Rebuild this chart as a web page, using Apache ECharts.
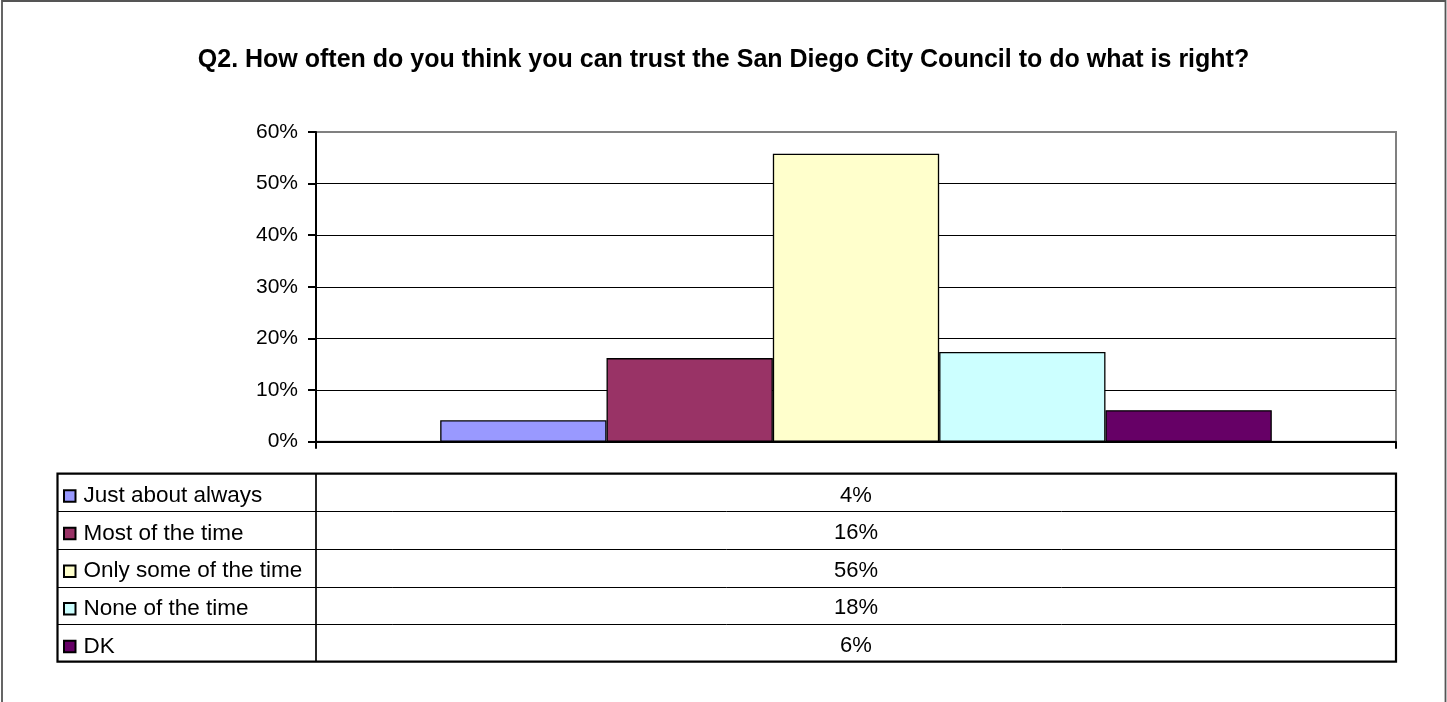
<!DOCTYPE html>
<html>
<head>
<meta charset="utf-8">
<script src="https://cdn.jsdelivr.net/npm/echarts@6/dist/echarts.min.js"></script>
<style>
html,body{margin:0;padding:0;background:#fff;}
#chart{width:1447px;height:702px;}
</style>
</head>
<body>
<div id="chart"></div>
<script>
var titleText = 'Q2. How often do you think you can trust the San Diego City Council to do what is right?';
var seriesNames = ['Just about always', 'Most of the time', 'Only some of the time', 'None of the time', 'DK'];
var seriesValues = [0.0415, 0.162, 0.558, 0.174, 0.061];
var tableLabels = ['4%', '16%', '56%', '18%', '6%'];
var seriesColors = ['#9999FF', '#993366', '#FFFFCC', '#CCFFFF', '#660066'];
var yTicks = [0, 0.1, 0.2, 0.3, 0.4, 0.5, 0.6];

var FONT = 'Arial, "Liberation Sans", sans-serif';
var W = 1447, H = 702;
var gridL = 316, gridR = 1396, gridT = 132, gridB = 441.7;
var tabL = 57.5, tabR = 1396, tabT = 473.7, tabB = 661.7;
var rowH = (tabB - tabT) / seriesNames.length;

var chart = echarts.init(document.getElementById('chart'), null, {renderer: 'canvas'});

var series = seriesNames.map(function (n, i) {
  return {
    name: n,
    type: 'bar',
    data: [seriesValues[i]],
    barGap: '0%',
    barCategoryGap: '23%',
    itemStyle: {color: seriesColors[i], borderColor: '#000', borderWidth: 1.3},
    emphasis: {disabled: true}
  };
});

var graphics = [];
// outer chart border (no bottom edge visible)
graphics.push({type: 'rect', shape: {x: 2, y: 1, width: W - 3.5, height: H + 10},
  style: {fill: null, stroke: '#555', lineWidth: 1.8}, silent: true, z: 100});
// table outer
graphics.push({type: 'rect', shape: {x: tabL, y: tabT, width: tabR - tabL, height: tabB - tabT},
  style: {fill: null, stroke: '#000', lineWidth: 2.2}, silent: true, z: 100});
// column divider
graphics.push({type: 'line', shape: {x1: gridL, y1: tabT, x2: gridL, y2: tabB},
  style: {stroke: '#000', lineWidth: 1.7}, silent: true, z: 100});
for (var r = 1; r < seriesNames.length; r++) {
  var yy = Math.round(tabT + rowH * r) + 0.5;
  graphics.push({type: 'line', shape: {x1: tabL, y1: yy, x2: tabR, y2: yy},
    style: {stroke: '#000', lineWidth: 1}, silent: true, z: 100});
}
tableLabels.forEach(function (t, i) {
  graphics.push({type: 'text', x: (gridL + tabR) / 2, y: tabT + rowH * (i + 0.5) + 3,
    style: {text: t, fill: '#000', font: '22px ' + FONT, textAlign: 'center', textVerticalAlign: 'middle'},
    silent: true, z: 100});
});

var option = {
  animation: false,
  backgroundColor: '#fff',
  title: {
    text: titleText,
    left: 'center',
    top: 48,
    padding: 0,
    textStyle: {fontFamily: FONT, fontSize: 25, fontWeight: 'bold', color: '#000'}
  },
  legend: {
    orient: 'vertical',
    left: 63,
    top: tabT + rowH / 2 + 1.5 - 17.5 + 2,
    padding: 0,
    itemWidth: 11.5,
    itemHeight: 11.5,
    itemGap: rowH - 35,
    icon: 'rect',
    selectedMode: false,
    textStyle: {fontFamily: FONT, fontSize: 22.5, color: '#000', lineHeight: 18, padding: [17, 0, 0, 3]},
    data: seriesNames
  },
  grid: {
    left: gridL, right: W - gridR, top: gridT, bottom: H - gridB,
    show: true, borderColor: '#808080', borderWidth: 2, backgroundColor: '#fff'
  },
  xAxis: {
    type: 'category',
    data: [''],
    boundaryGap: true,
    axisLine: {show: true, lineStyle: {color: '#000', width: 2}},
    axisTick: {show: true, inside: false, length: 7, lineStyle: {color: '#000', width: 2}},
    axisLabel: {show: false},
    splitLine: {show: false}
  },
  yAxis: {
    type: 'value',
    min: yTicks[0],
    max: yTicks[yTicks.length - 1],
    interval: yTicks[1] - yTicks[0],
    axisLine: {show: true, lineStyle: {color: '#000', width: 2}},
    axisTick: {show: true, inside: false, length: 8, lineStyle: {color: '#000', width: 2}},
    axisLabel: {
      fontFamily: FONT, fontSize: 21, color: '#000', margin: 18,
      formatter: function (v) { return Math.round(v * 100) + '%'; }
    },
    splitLine: {show: true, showMinLine: false, showMaxLine: false, lineStyle: {color: '#000', width: 1}}
  },
  series: series,
  graphic: graphics
};
chart.setOption(option);
</script>
</body>
</html>
